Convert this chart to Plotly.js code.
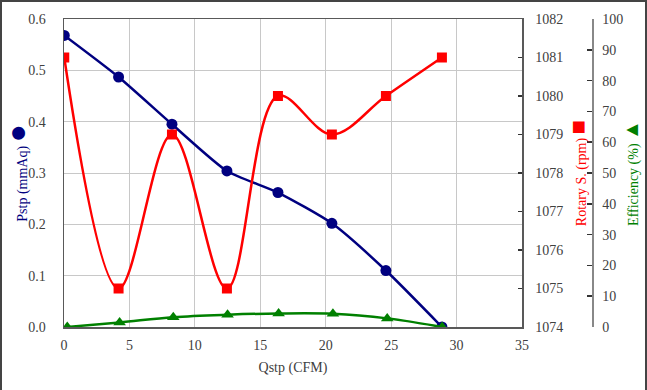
<!DOCTYPE html>
<html>
<head>
<meta charset="utf-8">
<script src="https://cdn.plot.ly/plotly-3.0.1.min.js"></script>
<style>
html,body{margin:0;padding:0;background:#fff;}
#chart{width:647px;height:390px;}
</style>
</head>
<body>
<div id="chart"></div>
<script>
// ---- data ----
const qstp = [0.02, 4.17, 8.25, 12.45, 16.35, 20.47, 24.6, 28.88];
const qstpEff = [0.25, 4.25, 8.35, 12.5, 16.4, 20.55, 24.7, 28.9];
const pstp = [0.568, 0.487, 0.395, 0.304, 0.262, 0.202, 0.110, 0.0];
const rpm = [1081, 1075, 1079, 1075, 1080, 1079, 1080, 1081];
const efficiency = [0, 1.5, 3.2, 4.0, 4.4, 4.3, 2.8, 0];
const xTitle = 'Qstp (CFM)';
const y1Title = 'Pstp (mmAq) <span style="font-size:30px">●</span>';
const y2Title = 'Rotary S. (rpm) <span style="font-size:24px">■</span>';
const y3Title = 'Efficiency (%) <span style="font-size:20px">▲</span>';

// ---- styling ----
const W = 647, H = 390;
const L = 64, R = 55, T = 19, B = 63;
const pw = W - L - R, ph = H - T - B;
const plotRight = 522;
const xDomEnd = (plotRight - L) / pw;
const NAVY = 'rgb(0,0,128)', RED = 'rgb(255,0,0)', GREEN = 'rgb(0,128,0)';
const FONT = "'Liberation Serif', 'Times New Roman', serif";
const TICKC = '#404040';
const AXC = '#595959';
const tf = {family: FONT, size: 14, color: TICKC};

const traces = [
  {x: qstp, y: pstp, type: 'scatter', mode: 'lines+markers', yaxis: 'y',
   line: {color: NAVY, width: 2.5, shape: 'spline', smoothing: 0.6},
   marker: {symbol: 'circle', size: 11, color: NAVY}},
  {x: qstp, y: rpm, type: 'scatter', mode: 'lines+markers', yaxis: 'y2',
   line: {color: RED, width: 2.5, shape: 'spline', smoothing: 1},
   marker: {symbol: 'square', size: 10, color: RED}},
  {x: qstpEff, y: efficiency, type: 'scatter', mode: 'lines+markers', yaxis: 'y3',
   line: {color: GREEN, width: 2.5, shape: 'spline', smoothing: 1},
   marker: {symbol: 'triangle-up', size: 11, color: GREEN}}
];

const layout = {
  width: W, height: H,
  margin: {l: L, r: R, t: T, b: B, pad: 0},
  paper_bgcolor: '#fff', plot_bgcolor: '#fff',
  showlegend: false,
  font: tf,
  xaxis: {
    domain: [0, xDomEnd], range: [0, 35], dtick: 5, tick0: 0,
    showgrid: true, gridcolor: '#c8c8c8', gridwidth: 1,
    showline: true, linecolor: AXC, linewidth: 1.5, mirror: true,
    ticks: '', zeroline: false, ticklabelstandoff: 5,
    tickfont: tf,
    title: {text: xTitle, font: {family: FONT, size: 14, color: TICKC}, standoff: 10}
  },
  yaxis: {
    range: [0, 0.6], dtick: 0.1, tick0: 0, tickformat: '.1f',
    showgrid: true, gridcolor: '#c8c8c8', gridwidth: 1,
    showline: true, linecolor: AXC, linewidth: 1.5,
    ticks: '', zeroline: false, ticklabelstandoff: 14,
    tickfont: tf,
    title: {text: y1Title, font: {family: FONT, size: 14, color: NAVY}}
  },
  yaxis2: {
    overlaying: 'y', side: 'right', anchor: 'x',
    range: [1074, 1082], dtick: 1, tick0: 1074,
    showgrid: false, showline: true, linecolor: AXC, linewidth: 1.5,
    ticks: 'inside', ticklen: 4, tickcolor: '#333', tickwidth: 1.5,
    zeroline: false, ticklabelstandoff: 9,
    tickfont: tf,
    title: {text: y2Title, font: {family: FONT, size: 14, color: RED}}
  },
  yaxis3: {
    overlaying: 'y', side: 'right', anchor: 'free', position: 1,
    range: [0, 100], dtick: 10, tick0: 0,
    showgrid: false, showline: true, linecolor: '#888', linewidth: 1.5,
    ticks: 'inside', ticklen: 5, tickcolor: '#333', tickwidth: 1.5,
    zeroline: false, ticklabelstandoff: 6,
    tickfont: tf,
    title: {text: y3Title, font: {family: FONT, size: 14, color: GREEN}}
  },
  shapes: [{
    type: 'rect', xref: 'paper', yref: 'paper', layer: 'above',
    x0: (1 - L) / pw, x1: (W - 1 - L) / pw,
    y0: (B - H + 1) / ph, y1: (H - B - 1) / ph,
    line: {color: '#444', width: 2}, fillcolor: 'rgba(0,0,0,0)'
  }]
};

Plotly.newPlot('chart', traces, layout, {displayModeBar: false, staticPlot: true});
</script>
</body>
</html>
